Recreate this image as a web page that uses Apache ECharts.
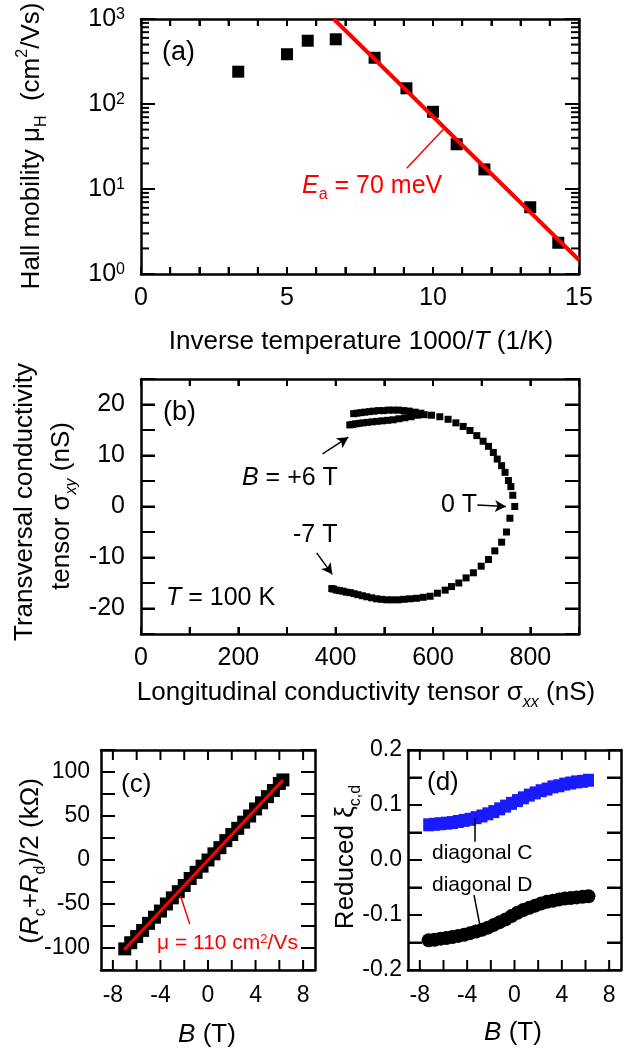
<!DOCTYPE html>
<html><head><meta charset="utf-8">
<script src="https://cdn.jsdelivr.net/npm/echarts@6/dist/echarts.min.js"></script>
<style>html,body{margin:0;padding:0;background:#fff}#c{width:630px;height:1052px}</style>
</head><body><div id="c"></div>
<script>
const FONT = '"Liberation Sans", Arial, sans-serif';
const BLACK = '#000000', RED = '#ff0000', BLUE = '#1a1aff';

// ---- Panel (a): Hall mobility vs inverse temperature ----
const invTemp = [3.33, 5.00, 5.71, 6.67, 8.00, 9.09, 10.00, 10.81, 11.76, 13.33, 14.29];
const hallMobility = [240, 385, 555, 577, 350, 153, 81, 33.6, 17, 6.1, 2.33];
const fitInvTemp = [6.6, 15];
const fitMobility = [1000, 1.46];
const aXTicks = [0,1,2,3,4,5,6,7,8,9,10,11,12,13,14,15];
const aYMajor = [1, 10, 100, 1000];
const aYMinor = [2,3,4,5,6,7,8,9,20,30,40,50,60,70,80,90,200,300,400,500,600,700,800,900];

// ---- Panel (b): sigma_xy vs sigma_xx ----
const sxxNeg = [768,758,751,741,727,714,699,683,668,653,638,625,609,594,580,566,552,540,528,516,505,494,484,474,464,455,446,438,430,422,415,408,402,396,392];
const sxyNeg = [0,-2.3,-5.0,-7.0,-8.7,-10.4,-11.7,-13.0,-14.0,-15.0,-15.7,-16.4,-17.0,-17.6,-17.8,-18.0,-18.1,-18.2,-18.3,-18.3,-18.3,-18.2,-18.1,-17.9,-17.7,-17.5,-17.3,-17.1,-16.9,-16.8,-16.6,-16.5,-16.4,-16.2,-16.1];
const sxxPos = [764,760,755,748,741,732,724,714,703,690,676,662,647,631,614,597,582,568,555,542,530,518,507,496,485,475,465,456,448,441,435,429];
const sxyPos = [2.2,3.9,5.1,6.7,8.0,9.3,10.6,11.8,12.8,13.9,14.9,15.7,16.4,17.1,17.6,17.9,18.0,17.9,17.6,17.4,17.2,17.0,16.9,16.8,16.7,16.6,16.5,16.4,16.3,16.2,16.1,16.0];
const sxxOuter = [575,563,551,540,529,518,508,498,488,478,469,460,452,444,437];
const sxyOuter = [18.3,18.5,18.7,18.8,18.9,18.9,18.9,18.8,18.8,18.7,18.6,18.5,18.4,18.3,18.2];
const bXTicks = [0,100,200,300,400,500,600,700,800,900];
const bYTicks = [-25,-20,-15,-10,-5,0,5,10,15,20,25];

// ---- Panel (c): (Rc+Rd)/2 vs B ----
const fieldC = [-7.0,-6.5,-6.0,-5.5,-5.0,-4.5,-4.0,-3.5,-3.0,-2.5,-2.0,-1.5,-1.0,-0.5,0.0,0.5,1.0,1.5,2.0,2.5,3.0,3.5,4.0,4.5,5.0,5.5,6.0,6.3];
const resistC = [-101,-94,-87,-80,-72,-65,-58,-50,-43,-36,-29,-21,-14,-7,0,7,14,22,29,36,43,50,58,65,72,79,87,91];
const fitFieldC = [-7.05, 6.3];
const fitResistC = [-102, 91];
const cXTicks = [-8,-6,-4,-2,0,2,4,6,8];
const cYTicks = [-125,-100,-75,-50,-25,0,25,50,75,100,125];

// ---- Panel (d): reduced xi vs B ----
const fieldD = [-7.25,-6.75,-6.25,-5.75,-5.25,-4.75,-4.25,-3.75,-3.25,-2.75,-2.25,-1.75,-1.25,-0.75,-0.25,0.25,0.75,1.25,1.75,2.25,2.75,3.25,3.75,4.25,4.75,5.25,5.75,6.25];
const xiC = [0.064,0.065,0.066,0.067,0.068,0.070,0.072,0.074,0.077,0.080,0.084,0.088,0.093,0.098,0.103,0.108,0.113,0.118,0.122,0.126,0.129,0.133,0.135,0.138,0.140,0.142,0.143,0.145];
const xiD = [-0.146,-0.145,-0.143,-0.142,-0.140,-0.138,-0.136,-0.133,-0.130,-0.127,-0.123,-0.118,-0.113,-0.108,-0.102,-0.096,-0.091,-0.087,-0.083,-0.079,-0.076,-0.074,-0.072,-0.070,-0.069,-0.068,-0.067,-0.066];
const dXTicks = [-8,-6,-4,-2,0,2,4,6,8];
const dYTicks = [-0.2,-0.15,-0.1,-0.05,0,0.05,0.1,0.15,0.2];

function zip(a, b) { return a.map((v, i) => [v, b[i]]); }

function richSet(size, color) {
  const s = Math.round(size * 0.62);
  const base = {fontFamily: FONT, fill: color, color: color};
  return {
    n: Object.assign({}, base, {fontSize: size}),
    i: Object.assign({}, base, {fontSize: size, fontStyle: 'italic'}),
    sub: Object.assign({}, base, {fontSize: s, verticalAlign: 'top', padding: [Math.round(size * 0.72), 0, 0, 0]}),
    isub: Object.assign({}, base, {fontSize: s, fontStyle: 'italic', verticalAlign: 'top', padding: [Math.round(size * 0.72), 0, 0, 0]}),
    sup: Object.assign({}, base, {fontSize: s, verticalAlign: 'top'})
  };
}

function mkAxis(o) {
  const ax = {
    type: o.type || 'value',
    gridIndex: o.grid,
    position: o.pos,
    min: o.min, max: o.max,
    axisLine: {show: true, onZero: false, lineStyle: {color: BLACK, width: 2.5}},
    axisTick: o.tickLen ? {show: true, inside: true, length: o.tickLen, lineStyle: {color: BLACK, width: 2}} : {show: false},
    axisLabel: o.fmt ? {show: true, margin: o.margin, fontSize: o.fontSize || 25, showMinLabel: true, showMaxLabel: true,
      hideOverlap: false, fontFamily: FONT, color: BLACK, formatter: o.fmt, rich: o.rich} : {show: false},
    splitLine: {show: false}
  };
  if (o.interval !== undefined) ax.interval = o.interval;
  if (o.type === 'log') ax.logBase = 10;
  return ax;
}
const every = step => (v => (Math.abs(Math.round(v / step) * step - v) < 1e-9) ? String(v) : '');

const supRich = {
  b: {fontSize: 25, fontFamily: FONT, color: BLACK},
  sup: {fontSize: 16, fontFamily: FONT, color: BLACK, verticalAlign: 'top', padding: [0, 0, 8, 0]}
};

const xAxes = [
  mkAxis({grid: 0, pos: 'bottom', min: 0, max: 15, interval: 1, tickLen: 7, fmt: every(5), margin: 12}),
  mkAxis({grid: 0, pos: 'top', min: 0, max: 15, interval: 1, tickLen: 7}),
  mkAxis({grid: 1, pos: 'bottom', min: 0, max: 900, interval: 100, tickLen: 7, fmt: every(200), margin: 12}),
  mkAxis({grid: 1, pos: 'top', min: 0, max: 900, interval: 100, tickLen: 7}),
  mkAxis({grid: 2, pos: 'bottom', min: -9, max: 9, interval: 1, fmt: every(4), margin: 14, fontSize: 23}),
  mkAxis({grid: 2, pos: 'top', min: -9, max: 9, interval: 1}),
  mkAxis({grid: 3, pos: 'bottom', min: -9, max: 9, interval: 1, fmt: every(4), margin: 14, fontSize: 23}),
  mkAxis({grid: 3, pos: 'top', min: -9, max: 9, interval: 1})
];
const yAxes = [
  mkAxis({grid: 0, pos: 'left', type: 'log', min: 1, max: 1000, tickLen: 14, margin: 16,
    fmt: v => '{b|10}{sup|' + Math.round(Math.log10(v)) + '}', rich: supRich}),
  mkAxis({grid: 0, pos: 'right', type: 'log', min: 1, max: 1000, tickLen: 14}),
  mkAxis({grid: 1, pos: 'left', min: -25, max: 25, interval: 5, tickLen: 14, fmt: every(10), margin: 16}),
  mkAxis({grid: 1, pos: 'right', min: -25, max: 25, interval: 5, tickLen: 14}),
  mkAxis({grid: 2, pos: 'left', min: -125, max: 125, interval: 25, tickLen: 14, fmt: every(50), margin: 11, fontSize: 23}),
  mkAxis({grid: 2, pos: 'right', min: -125, max: 125, interval: 25, tickLen: 14}),
  mkAxis({grid: 3, pos: 'left', min: -0.2, max: 0.2, interval: 0.05, tickLen: 14, margin: 6, fontSize: 23,
    fmt: v => (Math.round(v * 100) % 10 === 0) ? (Math.round(v * 100) / 100).toFixed(1) : ''}),
  mkAxis({grid: 3, pos: 'right', min: -0.2, max: 0.2, interval: 0.05, tickLen: 14})
];
const grids = [
  {left: 141, top: 19, width: 438, height: 255},
  {left: 141, top: 379, width: 438, height: 255},
  {left: 101, top: 750, width: 214, height: 220},
  {left: 408, top: 750, width: 213, height: 220}
];

function seg(p1, p2) { return [{coord: p1}, {coord: p2}]; }
function mline(color, width, arrow, segs) {
  return {
    silent: true, animation: false,
    symbol: arrow ? ['none', 'arrow'] : ['none', 'none'],
    symbolSize: arrow ? [9, 11] : 0,
    label: {show: false},
    lineStyle: {color: color, width: width, type: 'solid', opacity: 1},
    emphasis: {disabled: true},
    data: segs
  };
}
const solid = c => ({color: c, opacity: 1});

const series = [
  {type: 'scatter', xAxisIndex: 0, yAxisIndex: 0, data: zip(invTemp, hallMobility), symbol: 'rect', symbolSize: 12,
   itemStyle: solid(BLACK), z: 3},
  {type: 'line', xAxisIndex: 0, yAxisIndex: 0, data: zip(fitInvTemp, fitMobility), symbol: 'none',
   lineStyle: {color: RED, width: 4}, z: 4,
   markLine: mline(RED, 1.5, false, [seg([9.10, 17.5], [10.35, 50])])},
  {type: 'scatter', xAxisIndex: 2, yAxisIndex: 2, data: zip(sxxNeg, sxyNeg), symbol: 'rect', symbolSize: 7,
   itemStyle: solid(BLACK),
   markLine: mline(BLACK, 1.5, true, [seg([373, 10.3], [426, 13.6]), seg([361, -9.1], [393, -13.3]), seg([691, 0.3], [750, 0])])},
  {type: 'scatter', xAxisIndex: 2, yAxisIndex: 2, data: zip(sxxPos, sxyPos), symbol: 'rect', symbolSize: 7,
   itemStyle: solid(BLACK)},
  {type: 'scatter', xAxisIndex: 2, yAxisIndex: 2, data: zip(sxxOuter, sxyOuter), symbol: 'rect', symbolSize: 7,
   itemStyle: solid(BLACK)},
  {type: 'scatter', xAxisIndex: 4, yAxisIndex: 4, data: zip(fieldC, resistC), symbol: 'rect', symbolSize: 13,
   itemStyle: solid(BLACK), z: 3},
  {type: 'line', xAxisIndex: 4, yAxisIndex: 4, data: zip(fitFieldC, fitResistC), symbol: 'none',
   lineStyle: {color: RED, width: 3}, z: 4,
   markLine: mline(RED, 1.5, false, [seg([-1.53, -73], [-2.31, -41])])},
  {type: 'scatter', xAxisIndex: 6, yAxisIndex: 6, data: zip(fieldD, xiC), symbol: 'rect', symbolSize: [11, 13],
   itemStyle: solid(BLUE),
   markLine: mline(BLACK, 1.5, false, [seg([-3.36, 0.033], [-3.36, 0.076]), seg([-3.42, -0.064], [-2.93, -0.118])])},
  {type: 'scatter', xAxisIndex: 6, yAxisIndex: 6, data: zip(fieldD, xiD), symbol: 'circle', symbolSize: 14,
   itemStyle: solid(BLACK)}
];

function txt(x, y, text, size, color, opts) {
  opts = opts || {};
  return {
    type: 'text', x: x, y: y, rotation: opts.rot || 0, z: 100, silent: true,
    style: {
      x: 0, y: 0, text: text, fill: color, fontSize: size, fontFamily: FONT,
      align: opts.align || 'left', verticalAlign: 'middle', rich: richSet(size, color)
    }
  };
}
const R90 = Math.PI / 2;
const texts = [
  txt(162, 53, '{n|(a)}', 27, BLACK),
  txt(163, 413, '{n|(b)}', 27, BLACK),
  txt(121, 785, '{n|(c)}', 26, BLACK),
  txt(427, 783, '{n|(d)}', 26, BLACK),
  txt(302, 186, '{i|E}{sub|a}{n| = 70 meV}', 25, RED),
  txt(242, 478, '{i|B}{n| = +6 T}', 25, BLACK),
  txt(293, 535, '{n|-7 T}', 25, BLACK),
  txt(441, 505, '{n|0 T}', 25, BLACK),
  txt(166, 598, '{i|T}{n| = 100 K}', 25, BLACK),
  txt(157, 943, '{n|μ = 110 cm}{sup|2}{n|/Vs}', 21, RED),
  txt(432, 853, '{n|diagonal C}', 21, BLACK),
  txt(432, 885, '{n|diagonal D}', 21, BLACK),
  txt(361, 342, '{n|Inverse temperature 1000/}{i|T}{n| (1/K)}', 26, BLACK, {align: 'center'}),
  txt(366, 693, '{n|Longitudinal conductivity tensor σ}{isub|xx}{n| (nS)}', 26, BLACK, {align: 'center'}),
  txt(207, 1035, '{i|B}{n| (T)}', 26, BLACK, {align: 'center'}),
  txt(513, 1033, '{i|B}{n| (T)}', 26, BLACK, {align: 'center'}),
  txt(32, 146, '{n|Hall mobility μ}{sub|H}{n|  (cm}{sup|2}{n|/Vs)}', 26, BLACK, {align: 'center', rot: R90}),
  txt(25, 502, '{n|Transversal conductivity}', 26, BLACK, {align: 'center', rot: R90}),
  txt(62, 506, '{n|tensor σ}{isub|xy}{n| (nS)}', 26, BLACK, {align: 'center', rot: R90}),
  txt(31, 861, '{n|(}{i|R}{sub|c}{n|+}{i|R}{sub|d}{n|)/2 (kΩ)}', 26, BLACK, {align: 'center', rot: R90}),
  txt(346, 857, '{n|Reduced ξ}{sub|c,d}', 26, BLACK, {align: 'center', rot: R90})
];

// Inward tick marks on all four sides of each frame (decoration), using the same
// linear / log10 mapping as each grid's axes with their fixed min/max.
const tickSpecs = [
  {grid: 0, log: true, xr: [0, 15], yr: [1, 1000], xt: [[aXTicks, 7]], yt: [[aYMajor, 14], [aYMinor, 8]]},
  {grid: 1, xr: [0, 900], yr: [-25, 25], xt: [[bXTicks, 7]], yt: [[bYTicks, 14]]},
  {grid: 2, xr: [-9, 9], yr: [-125, 125], xt: [[cXTicks, 10]], yt: [[cYTicks, 14]]},
  {grid: 3, xr: [-9, 9], yr: [-0.2, 0.2], xt: [[dXTicks, 10]], yt: [[dYTicks, 14]]}
];
function axisPx(s, x, y) {
  const g = grids[s.grid];
  const fx = (x - s.xr[0]) / (s.xr[1] - s.xr[0]);
  const fy = s.log ? (Math.log10(y) - Math.log10(s.yr[0])) / (Math.log10(s.yr[1]) - Math.log10(s.yr[0]))
                   : (y - s.yr[0]) / (s.yr[1] - s.yr[0]);
  return [g.left + fx * g.width, g.top + g.height - fy * g.height];
}
const tickLines = [];
function tl(x1, y1, x2, y2) {
  tickLines.push({type: 'line', shape: {x1: x1, y1: y1, x2: x2, y2: y2}, style: {stroke: BLACK, lineWidth: 2}});
}
tickSpecs.forEach(s => {
  const g = grids[s.grid];
  const left = g.left, right = g.left + g.width, top = g.top, bottom = g.top + g.height;
  s.xt.forEach(([vals, len]) => vals.forEach(v => {
    const X = axisPx(s, v, s.yr[0])[0];
    tl(X, bottom, X, bottom - len);
    tl(X, top, X, top + len);
  }));
  s.yt.forEach(([vals, len]) => vals.forEach(v => {
    const Y = axisPx(s, s.xr[0], v)[1];
    tl(left, Y, left + len, Y);
    tl(right, Y, right - len, Y);
  }));
});

const chart = echarts.init(document.getElementById('c'), null, {renderer: 'canvas'});
chart.setOption({
  animation: false,
  backgroundColor: '#ffffff',
  grid: grids,
  xAxis: xAxes,
  yAxis: yAxes,
  series: series,
  graphic: tickLines.concat(texts)
});
</script>
</body></html>
